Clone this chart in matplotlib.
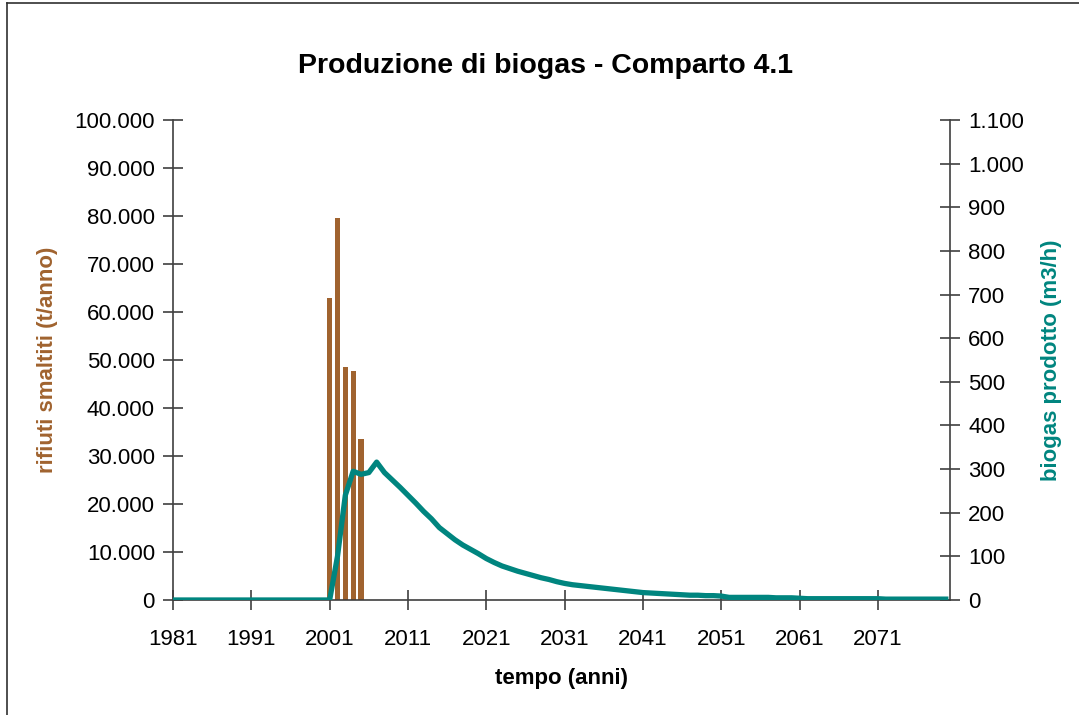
import numpy as np
import matplotlib.pyplot as plt
from matplotlib.ticker import FuncFormatter

plt.rcParams['font.family'] = ['Liberation Sans', 'DejaVu Sans']

# rifiuti smaltiti (t/anno), bars
anni_rifiuti = [2001, 2002, 2003, 2004, 2005]
rifiuti = [63000, 79600, 48500, 47700, 33600]

# biogas prodotto (m3/h), line, one value per year 1981-2080
anni = list(range(1981, 2081))
biogas = ([0] * 20 +
          [0, 100, 240, 295, 288, 292, 316, 292, 275, 258,
           240, 222, 203, 186, 166, 152, 138, 126, 116, 106,
           95, 86, 78, 72, 66, 61, 56, 51, 47, 42,
           38, 35, 33, 31, 29, 27, 25, 23, 21, 19,
           17, 16, 15, 14, 13, 12, 11, 11, 10, 10,
           9, 6, 6, 6, 6, 6, 6, 5, 5, 5,
           4, 3, 3, 3, 3, 3, 3, 3, 3, 3,
           3, 2, 2, 2, 2, 2, 2, 2, 2, 2])

BROWN = '#A0632F'
TEAL = '#00857F'

fig = plt.figure(figsize=(10.79, 7.15), dpi=100)
ax = fig.add_axes([173 / 1079, 1 - 600 / 715, (950 - 173) / 1079, 480 / 715])
ax2 = ax.twinx()

ax.bar(anni_rifiuti, rifiuti, width=0.66, color=BROWN, zorder=2)
ax2.plot(anni, biogas, color=TEAL, lw=3.8, solid_capstyle='butt', zorder=3)

ax.set_xlim(1981, 2080.2)
ax.set_ylim(0, 100000)
ax2.set_ylim(0, 1100)
ax.set_xticks(range(1981, 2080, 10))
ax.set_yticks(range(0, 100001, 10000))
ax2.set_yticks(range(0, 1101, 100))

dots = FuncFormatter(lambda v, p: f'{int(v):,}'.replace(',', '.'))
ax.yaxis.set_major_formatter(dots)
ax2.yaxis.set_major_formatter(dots)

for a in (ax, ax2):
    a.spines['top'].set_visible(False)
    for s in a.spines.values():
        s.set_color('#404040')
        s.set_linewidth(1.2)
    a.tick_params(direction='inout', length=14, width=1.2, color='#404040',
                  labelsize=16, pad=6)
ax.spines['right'].set_visible(False)
ax2.spines['left'].set_visible(False)
ax2.spines['bottom'].set_visible(False)
ax.tick_params(axis='x', pad=14)

ax.set_ylabel('rifiuti smaltiti (t/anno)', fontsize=16, fontweight='bold',
              color=BROWN, labelpad=12)
ax2.set_ylabel('biogas prodotto (m3/h)', fontsize=16, fontweight='bold',
               color=TEAL, labelpad=12)
ax.set_xlabel('tempo (anni)', fontsize=16, fontweight='bold', labelpad=13)

fig.text(545 / 1079, 1 - 66 / 715, 'Produzione di biogas - Comparto 4.1',
         fontsize=20.5, fontweight='bold', ha='center', va='center')

# chart area border
fig.add_artist(plt.Line2D([7 / 1079, 7 / 1079], [0, 1 - 3 / 715],
                          transform=fig.transFigure, color='#303030', lw=1.2))
fig.add_artist(plt.Line2D([7 / 1079, 1], [1 - 3 / 715, 1 - 3 / 715],
                          transform=fig.transFigure, color='#303030', lw=1.2))

fig.savefig('out.png', dpi=100)
